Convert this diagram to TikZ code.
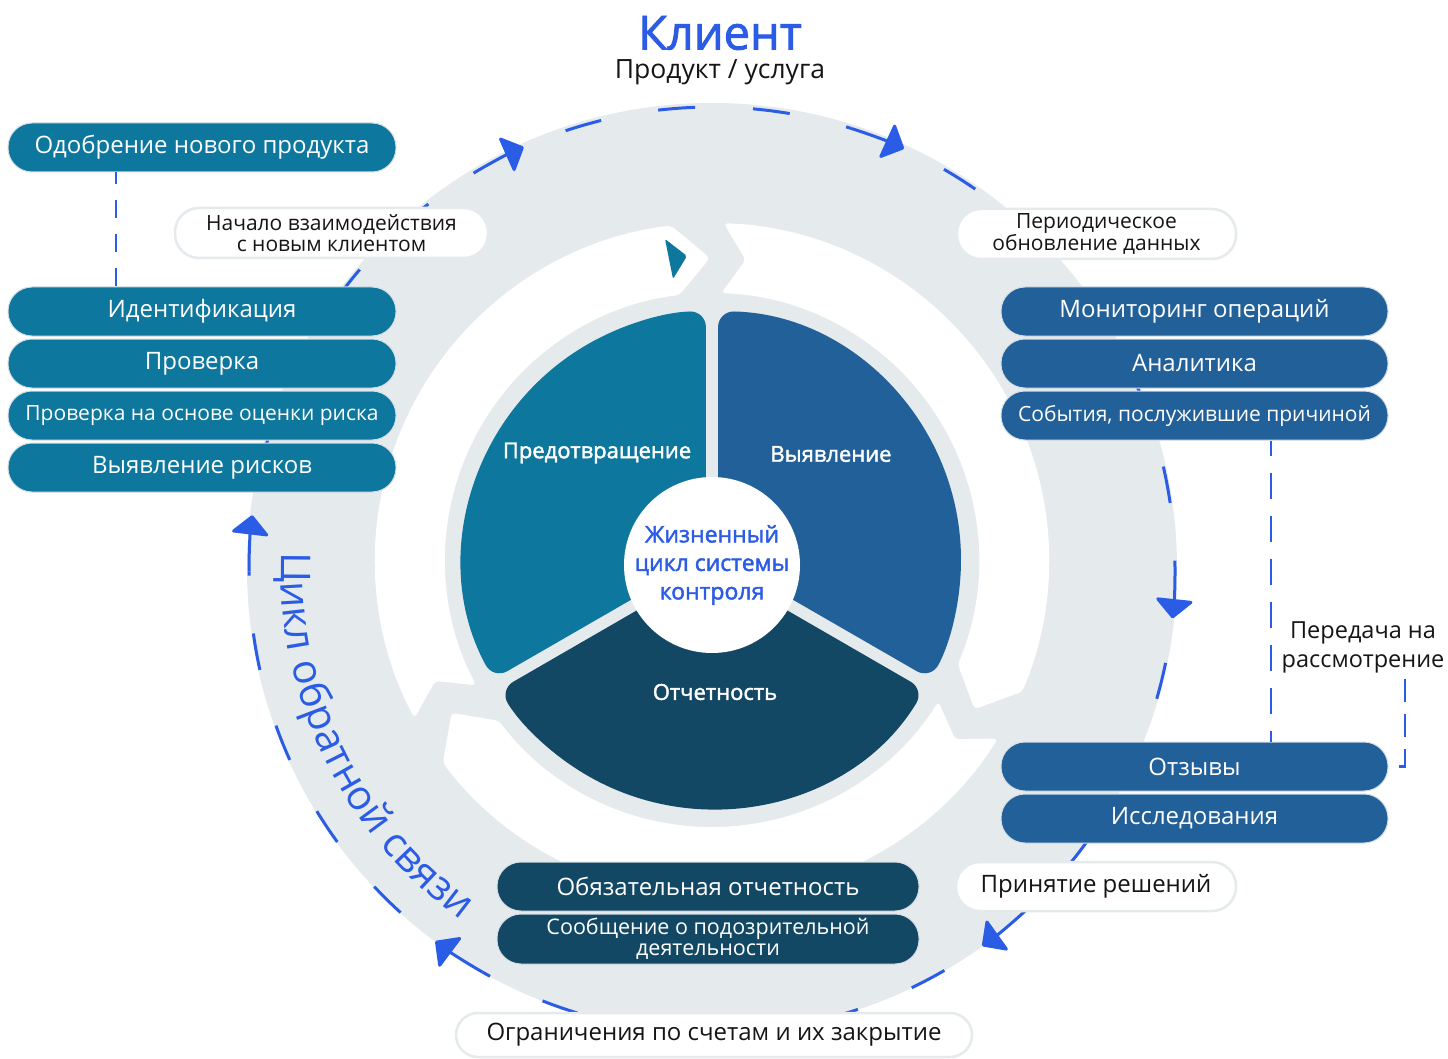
\documentclass[tikz,border=0pt]{standalone}
\usepackage{fontspec}
\setmainfont{Open Sans}
\newfontfamily\semib{Open Sans}[FakeBold=1.8]
\usetikzlibrary{arrows.meta,calc,decorations.text}
\definecolor{cTeal}{HTML}{0D779E}
\definecolor{cBlueBox}{HTML}{22609A}
\definecolor{cDark}{HTML}{134865}
\definecolor{cAcc}{HTML}{2B5CE6}
\definecolor{cGrey}{HTML}{E5EAED}
\definecolor{cEdge}{HTML}{D5DEE4}
\definecolor{cInk}{HTML}{151515}
\newcommand\fsz[2]{\fontsize{#1}{#2}\selectfont}
\begin{document}
\begin{tikzpicture}[x=1pt,y=-1pt,
  box/.style={rectangle, rounded corners=24pt, minimum height=49pt, inner sep=0pt,
    text=white, draw=cEdge, line width=1pt, align=center, font=\fsz{24}{24}},
  tealbox/.style={box, fill=cTeal, minimum width=388pt},
  bluebox/.style={box, fill=cBlueBox, minimum width=387pt},
  darkbox/.style={box, fill=cDark, minimum width=422pt},
  whitepill/.style={rectangle, rounded corners=24pt, fill=white, draw=cGrey,
    line width=2.5pt, inner sep=0pt, text=cInk, align=center},
  ring/.style={draw=cAcc, line width=3pt},
  ringdash/.style={ring, dash pattern=on 37pt off 58pt, dash phase=50pt},
  ringhead/.style={ring, -{Triangle[width=40pt,length=20pt,round]}, fill=cAcc},
  vdasha/.style={draw=cAcc, line width=2.5pt, dash pattern=on 18pt off 16pt, dash phase=6pt},
  vdashb/.style={draw=cAcc, line width=2.5pt, dash pattern=on 26pt off 17pt, dash phase=11pt},
  vdashc/.style={draw=cAcc, line width=2.5pt, dash pattern=on 23pt off 12pt},
  pielabel/.style={text=white, font=\semib\fsz{22}{22}},
]
\useasboundingbox (0,0) rectangle (1448,1059);
\fill[white] (0,0) rectangle (1448,1059);
\coordinate (C) at (712,570);
\coordinate (P) at (712,560);

% outer grey band
\fill[cGrey] (712,568) circle[radius=465];

% dashed cycle with arrowheads
\foreach \s/\e in {-114/-65.5, -65.5/6, 6/54.3, 54.3/126.7, 126.7/186.8, 186.8/246}{
  \draw[ringdash] ($(C)+(\s:463)$) arc[start angle=\s, end angle=\e-7, radius=463];
  \draw[ringhead] ($(C)+(\e-7:463)$) arc[start angle=\e-7, end angle=\e, radius=463];
}

% white curved arrows
\foreach \g in {-90,30,150}{
  \fill[white, rounded corners=4pt]
    ($(P)+(\g+2:337)$) arc[start angle=\g+2, end angle=\g+113, radius=337]
    -- ($(P)+(\g+119.6:302)$)
    -- ($(P)+(\g+113:267)$) arc[start angle=\g+113, end angle=\g+2, radius=267]
    -- ($(P)+(\g+6.4:302)$) -- cycle;
}
\fill[cTeal, rounded corners=2pt] (665,239) -- (687,256) -- (673,279) -- cycle;

% pie sectors
\foreach \a/\col in {150/cTeal, -90/cBlueBox, 30/cDark}{
  \fill[\col, rounded corners=16pt]
    ($(P)+(\a+60:6.93)$) -- ($(P)+(\a+1.4:249)$)
    arc[start angle=\a+1.4, end angle=\a+118.6, radius=249] -- cycle;
}
\node[circle, fill=white, minimum size=176pt, inner sep=0pt, align=center,
  text=cAcc, font=\semib\fsz{23}{28.5}] (core) at (712,565)
  {Жизненный\\цикл системы\\контроля};
\node[pielabel] (prev) at (597,453) {Предотвращение};
\node[pielabel] (vyav) at (831,454) {Выявление};
\node[pielabel] (otch) at (715,692) {Отчетность};

% curved label
\path[decorate, decoration={text along path, text align=center,
  text={|\fsz{41}{41}\color{cAcc}|Цикл обратной связи}}]
  ({712+431*cos(186)},{570+431*sin(186)}) arc[start angle=186, end angle=122, radius=431];

% left boxes
\node[tealbox] (odob) at (202,147.5) {Одобрение нового продукта};
\node[tealbox] (ident) at (202,311.5) {Идентификация};
\node[tealbox] (prov) at (202,363.5) {Проверка};
\node[tealbox, font=\fsz{21}{21}] (provr) at (202,415.5) {Проверка на основе оценки риска};
\node[tealbox] (vyavr) at (202,467.5) {Выявление рисков};

% right boxes
\node[bluebox] (monit) at (1194.5,311.5) {Мониторинг операций};
\node[bluebox] (anal) at (1194.5,363.5) {Аналитика};
\node[bluebox, font=\fsz{21}{21}] (sob) at (1194.5,415.5) {События, послужившие причиной};
\node[bluebox] (otz) at (1194.5,766.5) {Отзывы};
\node[bluebox] (issl) at (1194.5,818.5) {Исследования};

% bottom boxes
\node[darkbox] (obyaz) at (708,886.5) {Обязательная отчетность};
\node[darkbox, minimum height=50pt, font=\fsz{21.5}{21}] (soob) at (708,939)
  {Сообщение о подозрительной\\деятельности};

% white pills
\node[whitepill, minimum width=313pt, minimum height=50pt, font=\fsz{21}{21}] (nach)
  at (331.5,233) {Начало взаимодействия\\с новым клиентом};
\node[whitepill, minimum width=279pt, minimum height=50pt, font=\fsz{21}{21}] (period)
  at (1096.5,234) {Периодическое\\обновление данных};
\node[whitepill, minimum width=280pt, minimum height=49pt, font=\fsz{24}{24}] (prin)
  at (1096,886.5) {Принятие решений};
\node[whitepill, rounded corners=22pt, minimum width=516pt, minimum height=44pt,
  font=\fsz{24}{24}] (ogr) at (714,1035) {Ограничения по счетам и их закрытие};

% connectors
\draw[vdasha] ([xshift=-86pt]odob.south) -- ([xshift=-86pt]ident.north);
\draw[vdashb] ([xshift=76.5pt]sob.south) -- ([xshift=76.5pt]otz.north);
\node[text=cInk, font=\fsz{23.5}{29}, align=center] (pered) at (1363,647)
  {Передача на\\рассмотрение};
\draw[vdashc] ([xshift=42pt,yshift=-3pt]pered.south) |- (otz.east);

% titles
\node[text=cAcc, font=\semib\fsz{47}{47}] (klient) at (720,33) {Клиент};
\node[text=cInk, font=\fsz{26.5}{26.5}] (produkt) at (720,72) {Продукт / услуга};
\end{tikzpicture}
\end{document}
